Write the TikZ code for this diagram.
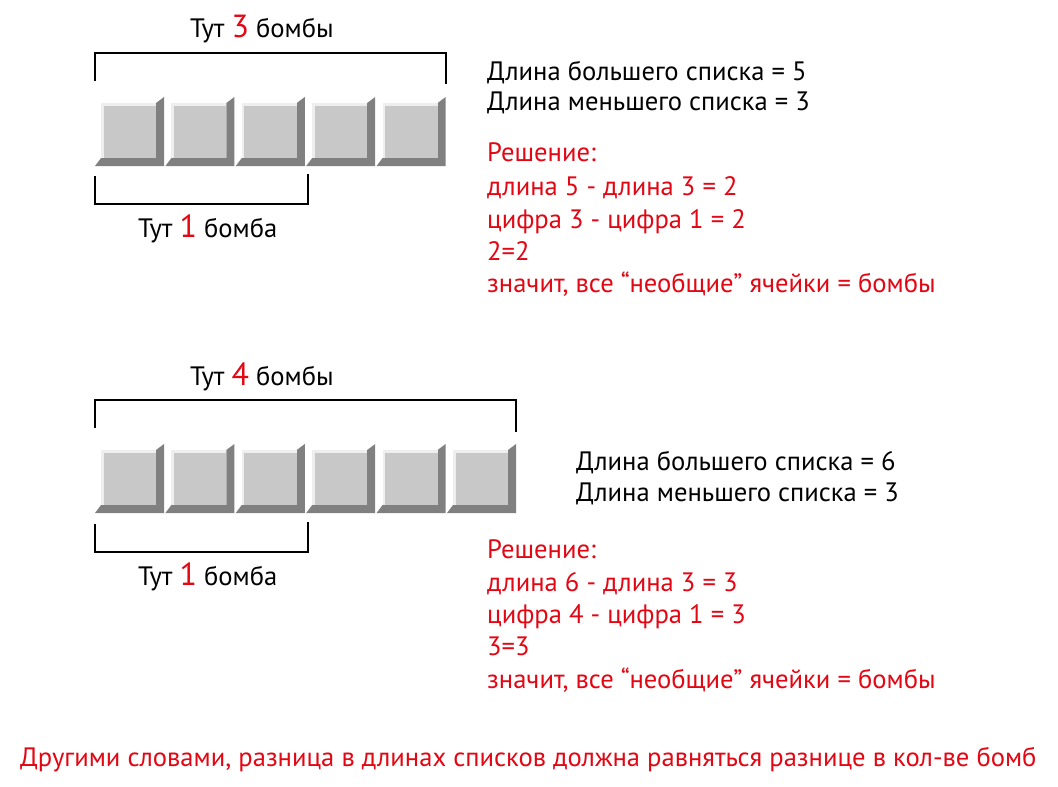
\documentclass[tikz,border=0pt]{standalone}
\usepackage{fontspec}
\setmainfont{PT Sans}
\definecolor{myred}{HTML}{E30613}
\definecolor{tiledark}{HTML}{808080}
\definecolor{tileface}{HTML}{C8C8C8}
\definecolor{tilelight}{HTML}{EEEEEE}
\newcommand{\mytile}[2]{%
  \begin{scope}[shift={(#1,#2)}]
    \fill[tiledark] (0,69) -- (69,69) -- (69,0) -- (61,6) -- (61,61) -- (6,61) -- cycle;
    \fill[tilelight] (6,6) rectangle (61,61);
    \fill[tileface] (8.5,8.5) rectangle (61,61);
  \end{scope}}
\begin{document}
\begin{tikzpicture}[x=1pt,y=-1pt,
  txt/.style={inner sep=0pt,anchor=base west,font=\fontsize{26.6}{31}\selectfont},
  redtxt/.style={txt,text=myred},
  bracket/.style={line width=2.2pt,black}]
\useasboundingbox (0,0) rectangle (1058,787);
\fill[white] (0,0) rectangle (1058,787);
% row 1
\foreach \i in {0,...,4} { \mytile{95+70.4*\i}{97} }
\draw[bracket] (95,81) -- (95,53) -- (446,53) -- (446,84);
\draw[bracket] (95,176) -- (95,204) -- (308,204) -- (308,174);
\node[txt] (t1) at (190,37) {Тут {\color{myred}\fontsize{32}{36}\selectfont 3} бомбы};
\node[txt] (b1) at (138,237) {Тут {\color{myred}\fontsize{32}{36}\selectfont 1} бомба};
\node[txt] (l1) at (487,80) {Длина большего списка = 5};
\node[txt] (m1) at (487,110) {Длина меньшего списка = 3};
\node[redtxt] (r1) at (487,161) {Решение:};
\node[redtxt] (r2) at (487,195) {длина 5 - длина 3 = 2};
\node[redtxt] (r3) at (487,228) {цифра 3 - цифра 1 = 2};
\node[redtxt] (r4) at (487,260) {2=2};
\node[redtxt] (r5) at (487,292) {значит, все “необщие” ячейки = бомбы};
% row 2
\foreach \i in {0,...,5} { \mytile{95+70.4*\i}{444} }
\draw[bracket] (95,428) -- (95,400) -- (516,400) -- (516,432);
\draw[bracket] (95,524) -- (95,552) -- (308,552) -- (308,522);
\node[txt] (t2) at (190,385) {Тут {\color{myred}\fontsize{32}{36}\selectfont 4} бомбы};
\node[txt] (b2) at (138,585) {Тут {\color{myred}\fontsize{32}{36}\selectfont 1} бомба};
\node[txt] (l2) at (576,470) {Длина большего списка = 6};
\node[txt] (m2) at (576,501) {Длина меньшего списка = 3};
\node[redtxt] (s1) at (487,558) {Решение:};
\node[redtxt] (s2) at (487,591) {длина 6 - длина 3 = 3};
\node[redtxt] (s3) at (487,623) {цифра 4 - цифра 1 = 3};
\node[redtxt] (s4) at (487,655) {3=3};
\node[redtxt] (s5) at (487,688) {значит, все “необщие” ячейки = бомбы};
% bottom
\node[redtxt] (bot) at (20,766) {Другими словами, разница в длинах списков должна равняться разнице в кол-ве бомб};
\end{tikzpicture}
\end{document}
